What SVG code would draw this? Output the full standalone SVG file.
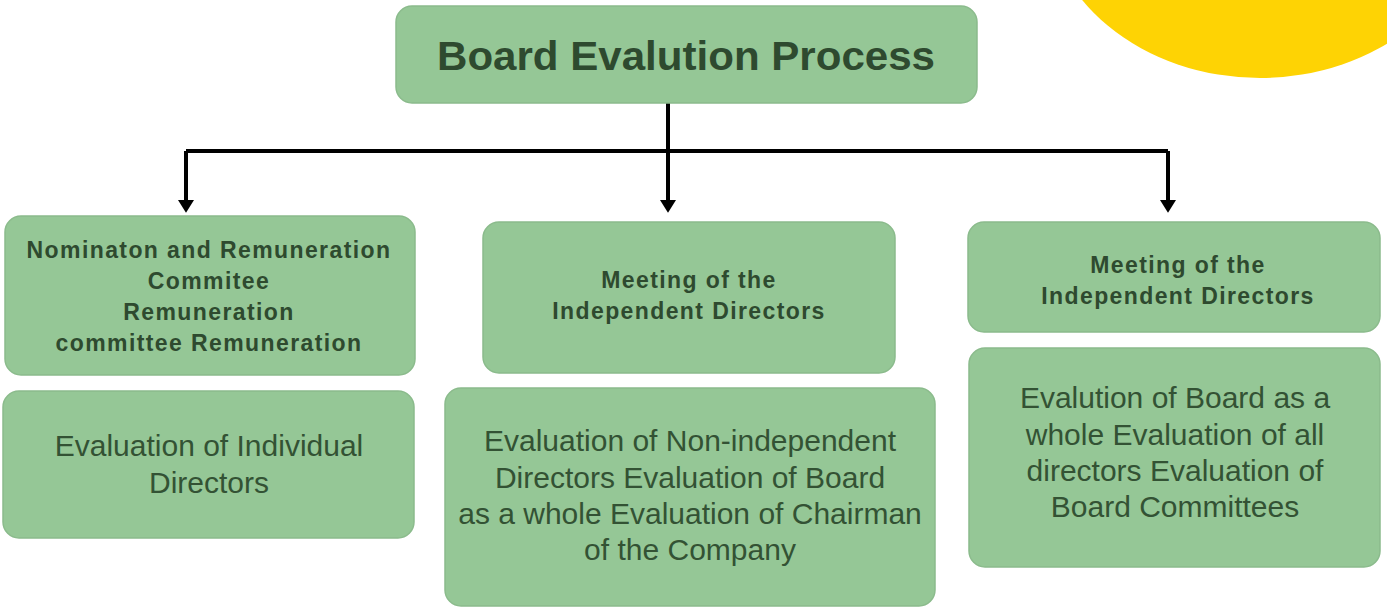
<svg xmlns="http://www.w3.org/2000/svg" width="1387" height="608" viewBox="0 0 1387 608">
<style>
.box{fill:#95c796;stroke:#8bbb8c;stroke-width:1.5}
.t{font-family:"Liberation Sans",Arial,sans-serif;fill:#2e4a2f;text-anchor:middle}
.b{font-weight:bold;font-size:23px;letter-spacing:1.4px}
.n{font-size:30px;fill:#335234}
.ttl{font-weight:bold;font-size:41px}
.c{stroke:#000;stroke-width:4;fill:none}
</style>
<defs>
<marker id="ah" markerWidth="4" markerHeight="6" refX="0" refY="3" orient="auto" markerUnits="strokeWidth">
<path d="M0,1 L3.2,3 L0,5 Z" fill="#000"/>
</marker>
</defs>
<rect width="1387" height="608" fill="#fff"/>
<ellipse cx="1260" cy="-100" rx="215" ry="178" fill="#fed304"/>
<g id="connectors">
<path class="c" d="M668,103 V151"/>
<path class="c" d="M186,151 H1168" stroke-width="5"/>
<path class="c" d="M186,151 V200" marker-end="url(#ah)"/>
<path class="c" d="M668,151 V200" marker-end="url(#ah)"/>
<path class="c" d="M1168,151 V200" marker-end="url(#ah)"/>
</g>
<g id="root">
<rect class="box" x="396" y="6" width="581" height="97" rx="16"/>
<text class="t ttl" x="686" y="70" textLength="498" lengthAdjust="spacingAndGlyphs">Board Evalution Process</text>
</g>
<g id="nrc">
<rect class="box" x="5" y="216" width="410" height="159" rx="16"/>
<text class="t b" x="209" y="258">Nominaton and Remuneration</text>
<text class="t b" x="209" y="289">Commitee</text>
<text class="t b" x="209" y="320">Remuneration</text>
<text class="t b" x="209" y="351">committee Remuneration</text>
</g>
<g id="eval-individual">
<rect class="box" x="3" y="391" width="411" height="147" rx="16"/>
<text class="t n" x="209" y="456">Evaluation of Individual</text>
<text class="t n" x="209" y="493">Directors</text>
</g>
<g id="meeting-mid">
<rect class="box" x="483" y="222" width="412" height="151" rx="16"/>
<text class="t b" x="689" y="288">Meeting of the</text>
<text class="t b" x="689" y="319">Independent Directors</text>
</g>
<g id="eval-mid">
<rect class="box" x="445" y="388" width="490" height="218" rx="16"/>
<text class="t n" x="690" y="451">Evaluation of Non-independent</text>
<text class="t n" x="690" y="488">Directors Evaluation of Board</text>
<text class="t n" x="690" y="524">as a whole Evaluation of Chairman</text>
<text class="t n" x="690" y="560">of the Company</text>
</g>
<g id="meeting-right">
<rect class="box" x="968" y="222" width="412" height="110" rx="16"/>
<text class="t b" x="1178" y="273">Meeting of the</text>
<text class="t b" x="1178" y="304">Independent Directors</text>
</g>
<g id="eval-right">
<rect class="box" x="969" y="348" width="411" height="219" rx="16"/>
<text class="t n" x="1175" y="408">Evalution of Board as a</text>
<text class="t n" x="1175" y="445">whole Evaluation of all</text>
<text class="t n" x="1175" y="481">directors Evaluation of</text>
<text class="t n" x="1175" y="517">Board Committees</text>
</g>
</svg>
